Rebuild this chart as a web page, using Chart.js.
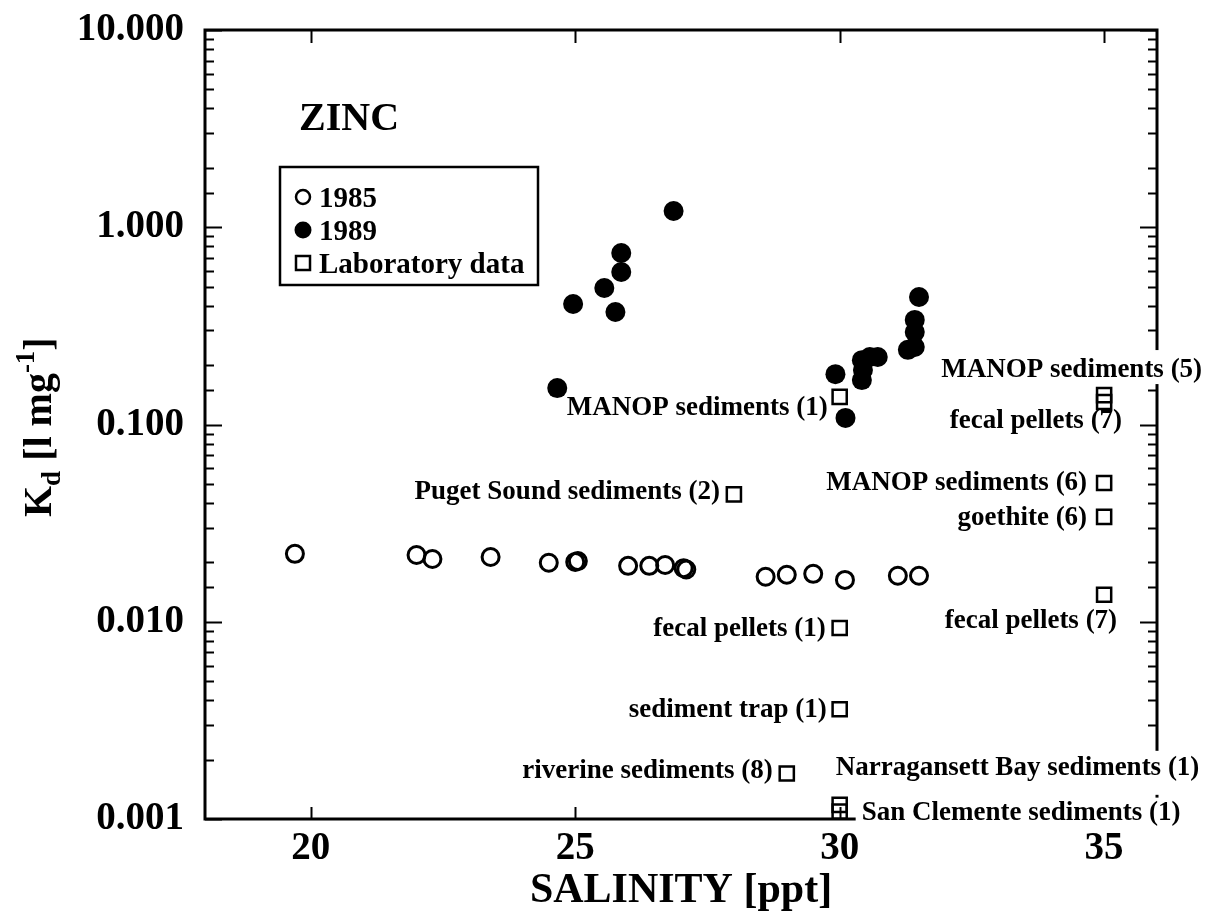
<!DOCTYPE html>
<html><head><meta charset="utf-8">
<script src="https://cdn.jsdelivr.net/npm/chart.js@4.4.0/dist/chart.umd.min.js"></script>
<style>html,body{margin:0;padding:0;background:#fff}#wrap{width:1208px;height:916px}</style>
</head><body><div id="wrap"><canvas id="c" width="1208" height="916"></canvas></div>
<script>
// ---- data ----
const sal1985 = [19.7, 22.0, 22.3, 23.4, 24.5, 25.0, 25.05, 26.0, 26.4, 26.7, 27.05, 27.1, 28.6, 29.0, 29.5, 30.1, 31.1, 31.5];
const kd1985  = [0.0221, 0.0218, 0.0208, 0.0213, 0.0199, 0.0201, 0.0203, 0.0192, 0.0192, 0.0194, 0.0187, 0.0184, 0.0169, 0.0173, 0.0175, 0.0163, 0.0171, 0.0171];

const sal1989 = [24.66, 24.96, 25.55, 25.76, 25.87, 25.87, 26.86, 29.92, 30.11, 30.42, 30.44, 30.42, 30.57, 30.72, 31.29, 31.42, 31.42, 31.42, 31.50];
const kd1989  = [0.153, 0.408, 0.492, 0.372, 0.593, 0.740, 1.209, 0.180, 0.108, 0.168, 0.189, 0.212, 0.220, 0.220, 0.239, 0.247, 0.294, 0.339, 0.443];

const labSal = [30.0, 28.0, 30.0, 30.0, 29.0, 30.0, 30.0, 35.0, 35.0, 35.0, 35.0, 35.0];
const labKd  = [0.138, 0.0442, 0.0093, 0.0036, 0.0017, 0.00118, 0.00109, 0.141, 0.130, 0.0505, 0.034, 0.0137];
const labNames = ['MANOP sediments (1)', 'Puget Sound sediments (2)', 'fecal pellets (1)', 'sediment trap (1)',
  'riverine sediments (8)', 'Narragansett Bay sediments (1)', 'San Clemente sediments (1)', 'MANOP sediments (5)',
  'fecal pellets (7)', 'MANOP sediments (6)', 'goethite (6)', 'fecal pellets (7)'];

const seriesNames = ['1985', '1989', 'Laboratory data'];
const xTicks = [20, 25, 30, 35];
const yTickLabels = ['0.001', '0.010', '0.100', '1.000', '10.000'];

// ---- label placement (pixel offsets from each lab point; k = white knock-out padding) ----
const labLabelLayout = [
  {align:'right', dx:-12, dy:18}, {align:'right', dx:-14, dy:5}, {align:'right', dx:-14, dy:8},
  {align:'right', dx:-13, dy:8}, {align:'right', dx:-14, dy:4},
  {align:'left', dx:-4, dy:-30, k:[4, 4, 24, 20]},
  {align:'left', dx:22, dy:8, k:[6, 4, 22, 9]},
  {align:'right', dx:98, dy:-18, k:[3, 4, 27, 7]},
  {align:'right', dx:18, dy:26},
  {align:'right', dx:-17, dy:7}, {align:'right', dx:-17, dy:8}, {align:'right', dx:13, dy:33}
];

const SERIF = "'Liberation Serif', 'Times New Roman', serif";
const isDecade = v => Math.abs(Math.log10(v) - Math.round(Math.log10(v))) < 1e-6;

const pts = (xs, ys) => xs.map((v, i) => ({x: v, y: ys[i]}));

const overlayPlugin = {
  id: 'overlay',
  afterDatasetsDraw(chart) {
    const {ctx} = chart;
    ctx.save();
    ctx.fillStyle = '#000';
    ctx.textBaseline = 'alphabetic';
    ctx.textAlign = 'left';
    ctx.font = 'bold 40px ' + SERIF;
    ctx.fillText('ZINC', 299, 130);
    ctx.lineWidth = 2.5;
    ctx.strokeStyle = '#000';
    ctx.strokeRect(280, 167, 258, 118);
    ctx.font = 'bold 29px ' + SERIF;
    const rows = [197, 230, 263];
    chart.data.datasets.forEach((ds, i) => {
      const cy = rows[i];
      ctx.lineWidth = 2.5;
      ctx.beginPath();
      if (i === 0) { ctx.arc(303, cy, 7, 0, Math.PI * 2); ctx.stroke(); }
      else if (i === 1) { ctx.arc(303, cy, 8.5, 0, Math.PI * 2); ctx.fill(); }
      else { ctx.strokeRect(296, cy - 7, 14, 14); }
      ctx.fillText(ds.label, 319, cy + 10);
    });
    ctx.restore();
  },
  afterDraw(chart) {
    const {ctx, chartArea: a, scales: {x, y}} = chart;
    ctx.save();
    ctx.strokeStyle = '#000';
    ctx.lineWidth = 3;
    ctx.strokeRect(a.left, a.top, a.right - a.left, a.bottom - a.top);
    ctx.lineWidth = 2;
    const line = (x1, y1, x2, y2) => { ctx.beginPath(); ctx.moveTo(x1, y1); ctx.lineTo(x2, y2); ctx.stroke(); };
    y.ticks.forEach(t => {
      const py = Math.round(y.getPixelForValue(t.value)) + 0.5;
      const len = isDecade(t.value) ? 17 : 9;
      line(a.left, py, a.left + len, py);
      line(a.right, py, a.right - len, py);
    });
    x.ticks.forEach(t => {
      const px = Math.round(x.getPixelForValue(t.value)) + 0.5;
      line(px, a.bottom, px, a.bottom - 12);
      line(px, a.top, px, a.top + 13);
    });
    // annotation labels (some sit on a white knock-out over the frame)
    ctx.textBaseline = 'alphabetic';
    ctx.font = 'bold 27px ' + SERIF;
    labNames.forEach((t, i) => {
      const L = labLabelLayout[i];
      const tx = x.getPixelForValue(labSal[i]) + L.dx;
      const ty = y.getPixelForValue(labKd[i]) + L.dy;
      const w = ctx.measureText(t).width;
      const left = L.align === 'right' ? tx - w : tx;
      if (L.k) {
        ctx.fillStyle = '#fff';
        ctx.fillRect(left - L.k[0], ty - L.k[2], w + L.k[0] + L.k[1], L.k[2] + L.k[3]);
      }
      ctx.fillStyle = '#000';
      ctx.textAlign = 'left';
      ctx.fillText(t, left, ty);
    });
    // y-axis title with subscript / superscript
    ctx.translate(51, 517);
    ctx.rotate(-Math.PI / 2);
    ctx.fillStyle = '#000';
    ctx.textAlign = 'left';
    ctx.textBaseline = 'alphabetic';
    let cx = 0;
    const put = (txt, size, dy) => {
      ctx.font = 'bold ' + size + 'px ' + SERIF;
      ctx.fillText(txt, cx, dy);
      cx += ctx.measureText(txt).width;
    };
    put('K', 40, 0);
    put('d', 27, 9);
    put(' [l mg', 40, 0);
    put('-1', 27, -17);
    put(']', 40, 0);
    ctx.restore();
  }
};

new Chart(document.getElementById('c'), {
  type: 'scatter',
  data: {
    datasets: [
      {label: seriesNames[0], data: pts(sal1985, kd1985), pointStyle: 'circle', pointRadius: 8.5,
       borderColor: '#000', backgroundColor: 'rgba(0,0,0,0)', borderWidth: 3},
      {label: seriesNames[1], data: pts(sal1989, kd1989), pointStyle: 'circle', pointRadius: 10,
       borderColor: '#000', backgroundColor: '#000', borderWidth: 0},
      {label: seriesNames[2], data: pts(labSal, labKd), pointStyle: 'rect', pointRadius: 10,
       borderColor: '#000', backgroundColor: 'rgba(0,0,0,0)', borderWidth: 2.5}
    ]
  },
  options: {
    responsive: false,
    devicePixelRatio: 1,
    animation: false,
    events: [],
    layout: {autoPadding: false, padding: {top: 30, right: 51, left: 0, bottom: 0}},
    plugins: {legend: {display: false}, tooltip: {enabled: false}},
    scales: {
      x: {
        type: 'linear', min: 18, max: 36,
        afterFit: s => { s.height = 97; s.paddingLeft = 0; s.paddingRight = 0; },
        afterBuildTicks: s => { s.ticks = xTicks.map(v => ({value: v})); },
        ticks: {stepSize: 5, includeBounds: false, color: '#000', padding: 7,
                font: {family: SERIF, size: 39, weight: 'bold'}},
        grid: {display: false, drawTicks: false},
        border: {display: false},
        title: {display: true, text: 'SALINITY [ppt]', color: '#000', padding: {top: 0, bottom: 0},
                font: {family: SERIF, size: 42, weight: 'bold'}}
      },
      y: {
        type: 'logarithmic', min: 0.001, max: 10,
        afterFit: s => { s.width = 205; s.paddingTop = 0; s.paddingBottom = 0; },
        ticks: {
          autoSkip: false, color: '#000', padding: 21,
          font: {family: SERIF, size: 39, weight: 'bold'},
          callback: v => {
            if (!isDecade(v)) return '';
            const k = Math.round(Math.log10(v)) + 3;
            return yTickLabels[k];
          }
        },
        grid: {display: false, drawTicks: false},
        border: {display: false}
      }
    }
  },
  plugins: [overlayPlugin]
});
</script>
</body></html>
